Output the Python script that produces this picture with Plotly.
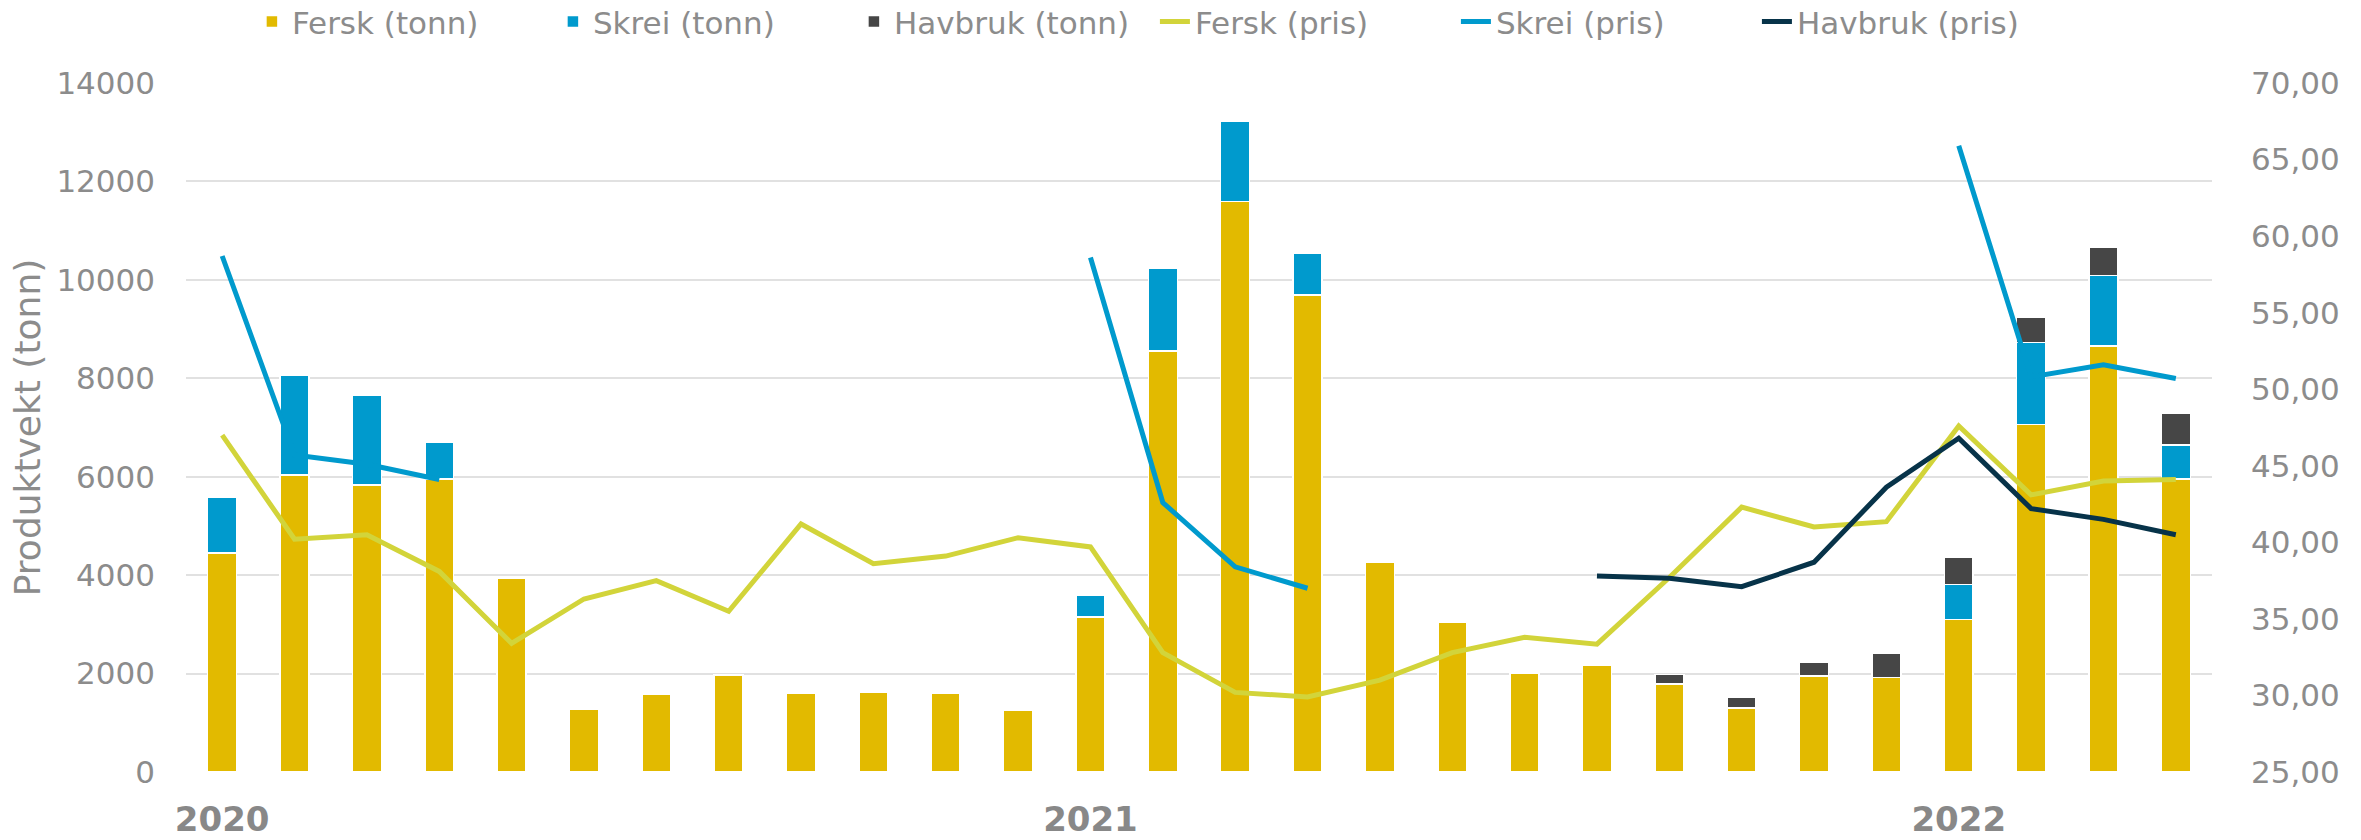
import plotly.graph_objects as go

months = ["2020-01", "2020-02", "2020-03", "2020-04", "2020-05", "2020-06", "2020-07", "2020-08",
          "2020-09", "2020-10", "2020-11", "2020-12", "2021-01", "2021-02", "2021-03", "2021-04",
          "2021-05", "2021-06", "2021-07", "2021-08", "2021-09", "2021-10", "2021-11", "2021-12",
          "2022-01", "2022-02", "2022-03", "2022-04"]

fersk_tonn = [4450, 6040, 5830, 5950, 3940, 1270, 1590, 1970, 1600, 1620, 1600, 1260,
              3150, 8550, 11590, 9690, 4260, 3050, 2010, 2170, 1790, 1300, 1950, 1920,
              3100, 7060, 8660, 5950]
skrei_tonn = [1130, 2030, 1820, 760, None, None, None, None, None, None, None, None,
              440, 1690, 1640, 860, None, None, None, None, None, None, None, None,
              710, 1670, 1430, 690]
havbruk_tonn = [None] * 19 + [40, 190, 210, 280, 490, 560, 510, 580, 650]

fersk_pris = [47.0, 40.2, 40.5, 38.1, 33.4, 36.3, 37.5, 35.5, 41.2, 38.6, 39.1, 40.3,
              39.7, 32.8, 30.2, 29.9, 31.0, 32.8, 33.8, 33.35, 37.7, 42.3, 41.0, 41.35,
              47.6, 43.1, 44.0, 44.1]
skrei_pris = [58.7, 45.7, 45.1, 44.1, None, None, None, None, None, None, None, None,
              58.6, 42.6, 38.4, 37.0, None, None, None, None, None, None, None, None,
              65.9, 50.8, 51.6, 50.7]
havbruk_pris = [None] * 19 + [37.8, 37.65, 37.1, 38.7, 43.6, 46.8, 42.2, 41.5, 40.5]

year_ticks = ["2020-01", "2021-01", "2022-01"]
year_text = ["<b>2020</b>", "<b>2021</b>", "<b>2022</b>"]

C_FERSK_BAR = "#E2BA00"
C_SKREI = "#009ACD"
C_HAV_BAR = "#464646"
C_FERSK_LINE = "#D2D43A"
C_HAV_LINE = "#073349"
GRAY = "#8C8C8C"
FONT = "DejaVu Sans"

fig = go.Figure()
bar_line = dict(color="white", width=1.5)
fig.add_trace(go.Bar(x=months, y=fersk_tonn, name="Fersk (tonn)",
                     marker=dict(color=C_FERSK_BAR, line=bar_line)))
fig.add_trace(go.Bar(x=months, y=skrei_tonn, name="Skrei (tonn)",
                     marker=dict(color=C_SKREI, line=bar_line)))
fig.add_trace(go.Bar(x=months, y=havbruk_tonn, name="Havbruk (tonn)",
                     marker=dict(color=C_HAV_BAR, line=bar_line)))

fig.add_trace(go.Scatter(x=months, y=fersk_pris, name="Fersk (pris)", yaxis="y2",
                         mode="lines", line=dict(color=C_FERSK_LINE, width=5),
                         connectgaps=False))
fig.add_trace(go.Scatter(x=months, y=skrei_pris, name="Skrei (pris)", yaxis="y2",
                         mode="lines", line=dict(color=C_SKREI, width=5),
                         connectgaps=False))
fig.add_trace(go.Scatter(x=months, y=havbruk_pris, name="Havbruk (pris)", yaxis="y2",
                         mode="lines", line=dict(color=C_HAV_LINE, width=5),
                         connectgaps=False))

fig.update_layout(
    width=2361, height=840,
    barmode="stack", bargap=0.6,
    plot_bgcolor="white", paper_bgcolor="white",
    separators=", ",
    font=dict(family=FONT, size=31, color=GRAY),
    margin=dict(l=186, r=149, t=83, b=68, autoexpand=False),
    showlegend=True,
    legend=dict(orientation="h", xref="container", yref="container",
                x=0.1067, xanchor="left", y=0.974, yanchor="middle",
                entrywidth=256, entrywidthmode="pixels",
                font=dict(family=FONT, size=31, color=GRAY),
                traceorder="normal", bgcolor="rgba(0,0,0,0)"),
    xaxis=dict(type="category", categoryorder="array", categoryarray=months,
               range=[-0.5, 27.5], tickmode="array", tickvals=year_ticks,
               ticktext=year_text, showgrid=False, ticks="", showline=False,
               zeroline=False, ticklabelstandoff=24,
               tickfont=dict(family=FONT, size=34, color="#888888")),
    yaxis=dict(range=[0, 14000], dtick=2000, tickformat="d", showgrid=True,
               gridcolor="#E1E1E1", gridwidth=1.6, zeroline=False, showline=False,
               ticks="", ticklabelstandoff=30,
               title=dict(text="Produktvekt (tonn)", standoff=4,
                          font=dict(family=FONT, size=36, color=GRAY)),
               tickfont=dict(family=FONT, size=31, color=GRAY)),
    yaxis2=dict(range=[25, 70], dtick=5, tickformat=".2f", overlaying="y",
                side="right", showgrid=False, zeroline=False, showline=False,
                ticks="", ticklabelstandoff=38,
                tickfont=dict(family=FONT, size=31, color=GRAY)),
)

fig.write_html("out.html", config={"displayModeBar": False},
               post_script="document.body.style.margin='0px';")
